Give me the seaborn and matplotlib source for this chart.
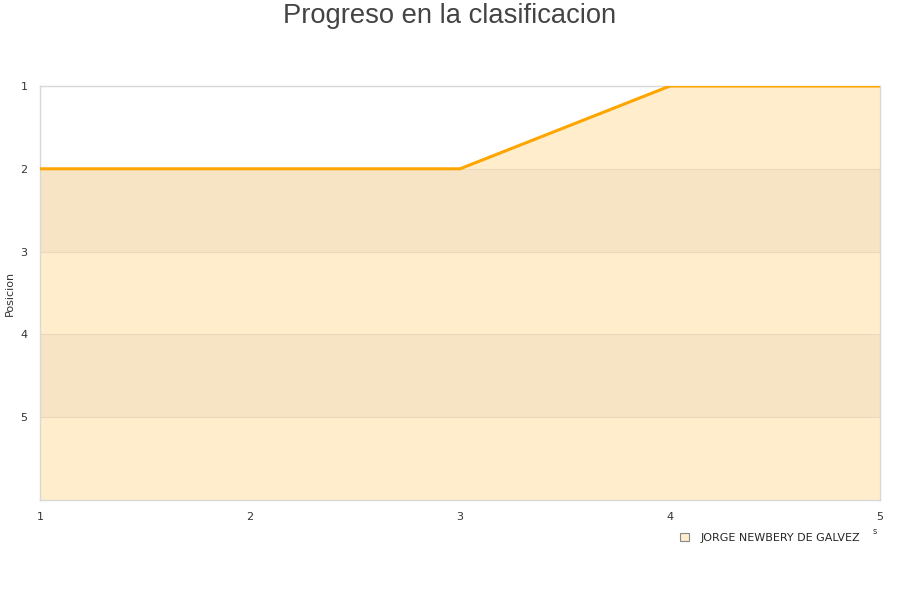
import matplotlib
matplotlib.use('Agg')
import matplotlib.pyplot as plt
from matplotlib.patches import Patch
import seaborn as sns
import pandas as pd

# Data
jornadas = [1, 2, 3, 4, 5]
posiciones = [2, 2, 2, 1, 1]
equipo = 'JORGE NEWBERY DE GALVEZ'
y_ticks = [1, 2, 3, 4, 5]

df = pd.DataFrame({'Jornada': jornadas, 'Posicion': posiciones})

sns.set_style('white')
plt.rcParams['font.family'] = ['DejaVu Sans']

fill_color = '#FFEDCC'
band_color = '#F7E4C4'
line_color = '#FFA500'

fig = plt.figure(figsize=(9, 6), dpi=100)
ax = fig.add_axes([40 / 900, 1 - 500 / 600, 840 / 900, 414 / 600])

# Fill under the line (down to the bottom of the inverted axis)
ax.fill_between(df['Jornada'], df['Posicion'], 6, color=fill_color, lw=0, zorder=1)
for lo in [2, 4]:
    ax.axhspan(lo, lo + 1, color=band_color, lw=0, zorder=1.2)
for y in [2, 3, 4, 5]:
    ax.axhline(y, color='#EAD9BA', lw=0.8, zorder=1.5)

sns.lineplot(data=df, x='Jornada', y='Posicion', color=line_color, lw=2.2, ax=ax, zorder=3)

ax.set_xlim(1, 5)
ax.set_ylim(6, 1)
ax.set_xticks(jornadas)
ax.set_yticks(y_ticks)
ax.tick_params(length=0, labelsize=8, labelcolor='#333333', pad=9)
ax.set_xlabel('')
ax.set_ylabel('Posicion', fontsize=8, color='#333333')
ax.yaxis.set_label_coords(-25 / 840, 0.5)
for s in ax.spines.values():
    s.set_color('#D8D8D8')
    s.set_linewidth(1)

fig.text(0.5, 1 - 16 / 600, 'Progreso en la clasificacion', ha='center', va='center',
         fontsize=19.7, color='#444444', family=['Liberation Sans', 'DejaVu Sans'])

handle = Patch(facecolor=fill_color, edgecolor='#888888', lw=0.8)
fig.legend([handle], [equipo], loc='center', bbox_to_anchor=(770 / 900, 1 - 538 / 600),
           frameon=False, fontsize=8, handlelength=0.8, handleheight=0.8, handletextpad=1.0)
fig.text(875 / 900, 1 - 532 / 600, 's', fontsize=6, color='#333333', ha='center', va='center')

fig.savefig('out.png', dpi=100)
